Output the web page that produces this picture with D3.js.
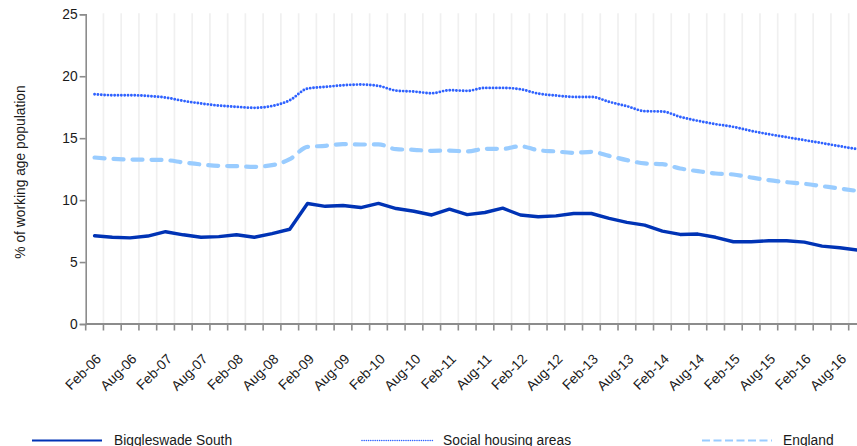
<!DOCTYPE html>
<html>
<head>
<meta charset="utf-8">
<script src="https://cdn.jsdelivr.net/npm/d3@7"></script>
<style>
  html, body { margin: 0; padding: 0; background: #fff; overflow: hidden; }
  svg { display: block; font-family: "Liberation Sans", Arial, sans-serif; }
</style>
</head>
<body>
<svg id="chart" width="857" height="446"></svg>
<script>
const categories = ["Feb-06","May-06","Aug-06","Nov-06","Feb-07","May-07","Aug-07","Nov-07","Feb-08","May-08","Aug-08","Nov-08",
  "Feb-09","May-09","Aug-09","Nov-09","Feb-10","May-10","Aug-10","Nov-10","Feb-11","May-11","Aug-11","Nov-11",
  "Feb-12","May-12","Aug-12","Nov-12","Feb-13","May-13","Aug-13","Nov-13","Feb-14","May-14","Aug-14","Nov-14",
  "Feb-15","May-15","Aug-15","Nov-15","Feb-16","May-16","Aug-16","Nov-16"];

const biggleswade = [7.12,7.0,6.95,7.1,7.45,7.2,7.0,7.05,7.2,7.0,7.3,7.65,
  9.73,9.5,9.57,9.4,9.73,9.32,9.1,8.8,9.27,8.83,9.0,9.35,
  8.8,8.66,8.73,8.92,8.92,8.52,8.2,7.98,7.5,7.23,7.26,7.0,
  6.64,6.64,6.72,6.72,6.61,6.29,6.16,5.97];

const socialHousing = [18.55,18.47,18.47,18.41,18.28,18.01,17.8,17.63,17.53,17.45,17.6,18.06,
  19.0,19.14,19.27,19.33,19.22,18.84,18.76,18.63,18.87,18.82,19.06,19.06,
  18.95,18.6,18.44,18.33,18.33,17.93,17.58,17.18,17.15,16.72,16.4,16.13,
  15.91,15.59,15.32,15.08,14.84,14.6,14.35,14.11];

const england = [13.44,13.33,13.28,13.26,13.23,13.04,12.88,12.77,12.74,12.69,12.82,13.3,
  14.3,14.38,14.52,14.49,14.5,14.11,14.06,13.98,14.0,13.93,14.14,14.14,
  14.35,14.03,13.93,13.82,13.9,13.57,13.23,12.96,12.9,12.55,12.34,12.15,
  12.07,11.83,11.61,11.45,11.32,11.13,10.94,10.73];

const yTicks = [0,5,10,15,20,25];
const xLabels = categories.filter((d,i) => i % 2 === 0);
const seriesNames = ["Biggleswade South","Social housing areas","England"];

const svg = d3.select("#chart");
const pLeft = 85.7, pRight = 85.7 + 44 * 17.744, pTop = 14.3, pBottom = 324;

const x = d3.scaleBand().domain(categories).range([pLeft, pRight]).padding(0);
const y = d3.scaleLinear().domain([0, 25]).range([pBottom, pTop]);
const cx = d => x(d) + x.bandwidth() / 2;

// vertical grid lines at category boundaries
const bounds = categories.map(c => x(c)).concat([pRight]);
svg.append("g").selectAll("line").data(bounds.slice(1)).join("line")
  .attr("x1", d => d).attr("x2", d => d)
  .attr("y1", pTop - 1).attr("y2", pBottom)
  .attr("stroke", "#f0f0f0").attr("stroke-width", 1.7);

// y axis
const yAxis = svg.append("g").attr("transform", `translate(${pLeft},0)`)
  .call(d3.axisLeft(y).tickValues(yTicks).tickSize(6).tickPadding(2));
yAxis.select(".domain").attr("stroke", "#8c8c8c").attr("stroke-width", 1.6);
yAxis.selectAll(".tick line").attr("stroke", "#8c8c8c").attr("stroke-width", 1.6);
yAxis.selectAll(".tick text").attr("font-size", 13.8).attr("fill", "#1a1a1a")
  .attr("font-family", "'Liberation Sans', Arial, sans-serif");

// x axis line and ticks
const xg = svg.append("g");
xg.append("line").attr("x1", pLeft).attr("x2", pRight).attr("y1", pBottom).attr("y2", pBottom)
  .attr("stroke", "#8c8c8c").attr("stroke-width", 1.8);
xg.selectAll("line.tk").data(bounds).join("line").attr("class", "tk")
  .attr("x1", d => d).attr("x2", d => d).attr("y1", pBottom).attr("y2", pBottom + 6.5)
  .attr("stroke", "#8c8c8c").attr("stroke-width", 1.6);
xg.selectAll("text").data(xLabels).join("text")
  .attr("transform", d => `translate(${cx(d) + 4},${356.5}) rotate(-45)`)
  .attr("text-anchor", "end").attr("dy", "0.35em")
  .attr("font-size", 13.8).attr("fill", "#1a1a1a")
  .text(d => d);

// y axis title
svg.append("text")
  .attr("transform", "translate(25,172) rotate(-90)")
  .attr("text-anchor", "middle")
  .attr("font-size", 13.8).attr("fill", "#1a1a1a")
  .text("% of working age population");

const line = d3.line().x((d, i) => cx(categories[i])).y(d => y(d)).curve(d3.curveMonotoneX);
const lineStraight = d3.line().x((d, i) => cx(categories[i])).y(d => y(d));

svg.append("path").attr("d", line(england)).attr("fill", "none")
  .attr("stroke", "#99ccff").attr("stroke-width", 4.2)
  .attr("stroke-dasharray", "10,9").attr("stroke-linecap", "round");

svg.append("path").attr("d", line(socialHousing)).attr("fill", "none")
  .attr("stroke", "#2f62ff").attr("stroke-width", 2.9)
  .attr("stroke-dasharray", "0,3.35").attr("stroke-linecap", "round");

svg.append("path").attr("d", lineStraight(biggleswade)).attr("fill", "none")
  .attr("stroke", "#0033b5").attr("stroke-width", 3.4)
  .attr("stroke-linejoin", "round").attr("stroke-linecap", "round");

// legend
const legend = [
  {name: seriesNames[0], x1: 32, x2: 102, tx: 114, color: "#0033b5", w: 2.2, dash: null, cap: "butt"},
  {name: seriesNames[1], x1: 362, x2: 433, tx: 443, color: "#2f62ff", w: 1.6, dash: "0,2.2", cap: "round"},
  {name: seriesNames[2], x1: 702, x2: 772, tx: 783, color: "#99ccff", w: 2.2, dash: "8,3.5", cap: "butt"}
];
const lg = svg.append("g").selectAll("g").data(legend).join("g");
lg.append("line").attr("x1", d => d.x1).attr("x2", d => d.x2).attr("y1", 440.5).attr("y2", 440.5)
  .attr("stroke", d => d.color).attr("stroke-width", d => d.w)
  .attr("stroke-dasharray", d => d.dash).attr("stroke-linecap", d => d.cap);
lg.append("text").attr("x", d => d.tx).attr("y", 444.5)
  .attr("font-size", 13.8).attr("fill", "#1a1a1a").text(d => d.name);
</script>
</body>
</html>
